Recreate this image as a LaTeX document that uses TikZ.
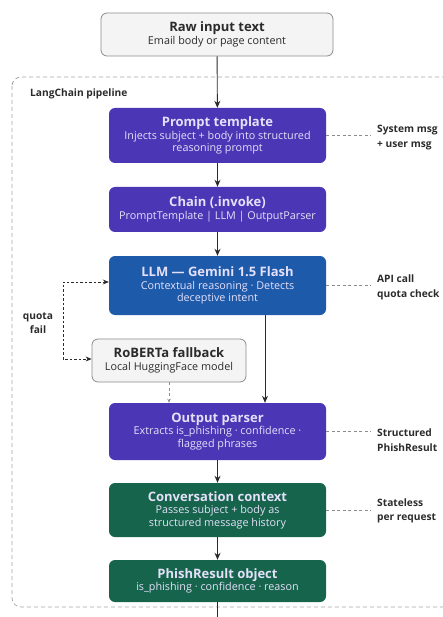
\documentclass[tikz,border=0pt]{standalone}
\usepackage{fontspec}
\setmainfont{Open Sans}
\usetikzlibrary{arrows.meta,positioning}
\definecolor{inkgray}{HTML}{2B2B2B}
\definecolor{edgegray}{HTML}{8C8C8C}
\definecolor{paper}{HTML}{F4F4F4}
\definecolor{stagepurple}{HTML}{4B37B5}
\definecolor{stageblue}{HTML}{1E5AAA}
\definecolor{stagegreen}{HTML}{16644B}
\definecolor{softwhite}{HTML}{E4E0FA}
\newcommand{\boxhead}[1]{{\fontsize{13}{15}\selectfont\bfseries #1}\\}
\newcommand{\sidefont}{\fontsize{10.2}{14.5}\selectfont\bfseries}

\tikzset{
  stagebox/.style={rounded corners=6pt, align=center, inner sep=0pt,
    minimum width=217pt, font=\fontsize{10.8}{12.5}\selectfont},
  graybox/.style={stagebox, draw=edgegray, line width=0.8pt, fill=paper, text=inkgray},
  purplebox/.style={stagebox, fill=stagepurple, text=softwhite},
  bluebox/.style={stagebox, fill=stageblue, text=softwhite},
  greenbox/.style={stagebox, fill=stagegreen, text=softwhite},
  sidenote/.style={anchor=west, align=left, inner sep=0pt, text=inkgray, font=\sidefont},
  flow/.style={-{Stealth[length=7pt,width=6pt]}, line width=0.9pt, color=inkgray},
  sideline/.style={dashed, dash pattern=on 3pt off 2.5pt, draw=edgegray, line width=0.7pt},
  fallback/.style={dashed, dash pattern=on 2.5pt off 2pt, draw=inkgray, line width=0.8pt,
    {Stealth[length=6pt,width=5pt]}-{Stealth[length=6pt,width=5pt]}},
  pipeline/.style={dashed, dash pattern=on 4pt off 3pt, draw=edgegray!80, line width=0.7pt,
    rounded corners=9pt}
}

\begin{document}
\begin{tikzpicture}[x=1pt,y=-1pt]
  \useasboundingbox (0,0) rectangle (443,617);

  % pipeline frame
  \draw[pipeline] (12,77) rectangle (455,607);
  \node[anchor=west, inner sep=0pt, text=inkgray, font=\sidefont] (frame) at (30,94) {LangChain pipeline};

  % main column
  \node[graybox, minimum width=232pt, minimum height=43pt] (raw) at (217,34.5)
    {\boxhead{Raw input text}Email body or page content};
  \node[purplebox, minimum height=55pt] (prompt) at (217.5,135.5)
    {\boxhead{Prompt template}Injects subject + body into structured\\reasoning prompt};
  \node[purplebox, minimum height=45pt] (chain) at (217.5,209.5)
    {\boxhead{Chain (.invoke)}PromptTemplate | LLM | OutputParser};
  \node[bluebox, minimum height=59pt] (llm) at (217.5,285.5)
    {\boxhead{LLM — Gemini 1.5 Flash}Contextual reasoning · Detects\\deceptive intent};
  \node[graybox, minimum width=154pt, minimum height=43pt] (roberta) at (169,360.5)
    {\boxhead{RoBERTa fallback}Local HuggingFace model};
  \node[purplebox, minimum height=57pt] (parser) at (217.5,431.5)
    {\boxhead{Output parser}Extracts is\_phishing · confidence ·\\flagged phrases};
  \node[greenbox, minimum height=54pt] (context) at (217.5,510)
    {\boxhead{Conversation context}Passes subject + body as\\structured message history};
  \node[greenbox, minimum height=42pt] (phish) at (217.5,581)
    {\boxhead{PhishResult object}is\_phishing · confidence · reason};

  % side notes
  \node[sidenote] (sysmsg) at (377,137.5) {System msg\\+ user msg};
  \node[sidenote] (apicall) at (377,287.5) {API call\\quota check};
  \node[sidenote] (structured) at (377,440) {Structured\\PhishResult};
  \node[sidenote] (stateless) at (377,511) {Stateless\\per request};
  \node[align=center, inner sep=0pt, text=inkgray, font=\sidefont] (quota) at (38,323) {quota\\fail};

  \coordinate (loop) at (63,320);
  \coordinate (llmout) at (265,315);
  \coordinate (exit) at (217.5,625);

  % connectors
  \path[flow]
    (raw) edge (prompt)
    (prompt) edge (chain)
    (chain) edge (llm)
    (llmout) edge (llmout |- parser.north)
    (parser) edge (context)
    (context) edge (phish);
  \draw[line width=0.9pt, draw=inkgray] (phish) -- (exit);
  \draw[fallback] ([yshift=3.5pt]llm.west) -| (loop) |- ([yshift=1.5pt]roberta.west);
  \draw[sideline, -{Stealth[length=4pt,width=3.5pt]}] (roberta) -- (roberta.south |- parser.north);

  \draw[sideline] (prompt.east) -- ([xshift=-6pt]prompt.east -| sysmsg.west);
  \draw[sideline] (llm.east) -- ([xshift=-6pt]llm.east -| apicall.west);
  \draw[sideline] (parser.east) -- ([xshift=-6pt]parser.east -| structured.west);
  \draw[sideline] (context.east) -- ([xshift=-6pt]context.east -| stateless.west);
\end{tikzpicture}
\end{document}
